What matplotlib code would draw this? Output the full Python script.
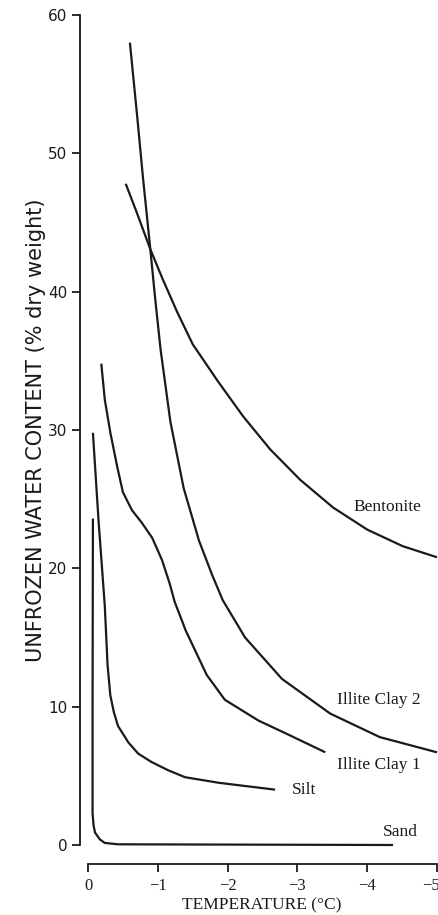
import matplotlib
matplotlib.use("Agg")
import matplotlib.pyplot as plt
import matplotlib.transforms as mtransforms

# values (temperature in deg C, unfrozen water in % dry weight)
bentonite_t = [-0.54, -0.70, -0.89, -1.07, -1.28, -1.50, -1.85, -2.22, -2.61, -3.04,
               -3.51, -4.00, -4.51, -5.00]
bentonite_w = [47.8, 45.7, 43.1, 40.9, 38.5, 36.2, 33.6, 31.0, 28.6, 26.4,
               24.4, 22.8, 21.6, 20.8]

illite2_t = [-0.60, -0.70, -0.79, -0.89, -0.96, -1.04, -1.18, -1.37, -1.59, -1.78,
             -1.93, -2.25, -2.78, -3.47, -4.18, -5.00]
illite2_w = [58.0, 52.9, 48.1, 43.2, 39.6, 35.8, 30.6, 25.8, 22.0, 19.5,
             17.7, 15.0, 12.0, 9.5, 7.8, 6.7]

illite1_t = [-0.19, -0.24, -0.32, -0.42, -0.50, -0.63, -0.77, -0.92, -1.06, -1.17,
             -1.24, -1.40, -1.70, -1.96, -2.44, -2.82, -3.40]
illite1_w = [34.8, 32.2, 29.8, 27.3, 25.5, 24.2, 23.3, 22.2, 20.6, 18.9,
             17.6, 15.5, 12.3, 10.5, 9.0, 8.1, 6.7]

silt_t = [-0.07, -0.15, -0.24, -0.28, -0.32, -0.37, -0.43, -0.58, -0.72, -0.91,
          -1.15, -1.39, -1.87, -2.68]
silt_w = [29.8, 23.5, 17.3, 13.0, 10.8, 9.6, 8.6, 7.4, 6.6, 6.0,
          5.4, 4.9, 4.5, 4.0]

sand_t = [-0.070, -0.065, -0.065, -0.08, -0.10, -0.17, -0.24, -0.43, -4.37]
sand_w = [23.6, 10.0, 2.3, 1.4, 0.9, 0.4, 0.15, 0.05, 0.0]

labels = ["Bentonite", "Illite Clay 2", "Illite Clay 1", "Silt", "Sand"]
label_t = [-3.80, -3.57, -3.57, -2.92, -4.23]
label_w = [24.4, 10.5, 5.8, 4.0, 0.95]

x_ticks = [0, -1, -2, -3, -4, -5]
y_ticks = [0, 10, 20, 30, 40, 50, 60]

ink = "#1a1a1a"
serif = "Liberation Serif"
sans = "DejaVu Sans"

fig = plt.figure(figsize=(4.39, 9.15), dpi=100)
ax = fig.add_axes([80 / 439, 70 / 915, 357 / 439, 830 / 915])

for t, w in [(bentonite_t, bentonite_w), (illite2_t, illite2_w), (illite1_t, illite1_w),
             (silt_t, silt_w), (sand_t, sand_w)]:
    ax.plot(t, w, color=ink, lw=1.6, solid_capstyle="butt", solid_joinstyle="round",
            clip_on=False)

for name, t, w in zip(labels, label_t, label_w):
    ax.text(t, w, name, ha="left", va="center", fontsize=12.5, family=serif, color=ink)

ax.set_xlim(0.115, -5.0)
ax.set_ylim(0, 60)

ax.spines["top"].set_visible(False)
ax.spines["right"].set_visible(False)
ax.spines["bottom"].set_position(("outward", 14))
ax.spines["bottom"].set_bounds(-5, 0)
ax.spines["left"].set_bounds(0, 60)
for s in ("bottom", "left"):
    ax.spines[s].set_linewidth(1.3)
    ax.spines[s].set_color(ink)

ax.set_xticks(x_ticks)
ax.set_xticklabels(["0"] + ["\u2212%d" % abs(v) for v in x_ticks[1:]])
ax.set_yticks(y_ticks)
ax.tick_params(axis="both", direction="out", length=6, width=1.3, color=ink, labelcolor=ink)
ax.tick_params(axis="y", labelsize=11, pad=3)
ax.tick_params(axis="x", labelsize=12, pad=4)
for lab in ax.get_xticklabels():
    lab.set_family(serif)
for lab in ax.get_yticklabels():
    lab.set_family(sans)
# last label sits a little left of its tick, as in the print
last = ax.get_xticklabels()[-1]
last.set_transform(last.get_transform() +
                   mtransforms.ScaledTranslation(-6 / 100, 0, fig.dpi_scale_trans))

ax.set_xlabel("TEMPERATURE (\u00b0C)", fontsize=12.5, family=serif, color=ink)
ax.xaxis.set_label_coords((262 - 80) / 357, -(897 - 845) / 830)
ax.set_ylabel("UNFROZEN WATER CONTENT (% dry weight)", fontsize=15, family=sans, color=ink)
ax.yaxis.set_label_coords(-(80 - 46) / 357, 0.5)

fig.savefig("out.png", dpi=100)
